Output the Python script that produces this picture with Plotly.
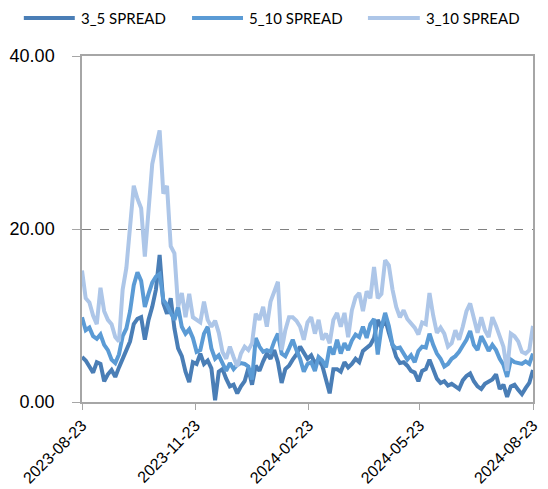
import pandas as pd
import plotly.graph_objects as go

# sampled every 3 days from 2023-08-23 to 2024-08-23
dates = pd.date_range("2023-08-23", "2024-08-23", freq="3D")

spread_3_5 = [
    5.2, 4.8, 4.1, 3.4, 4.6, 4.4, 2.4, 3.2, 3.7, 2.9,
    4.0, 4.9, 6.0, 7.0, 9.0, 9.6, 9.8, 7.2, 9.5, 11.0,
    13.0, 17.0, 11.4, 10.2, 12.0, 8.5, 6.2, 5.3, 3.5, 2.3,
    4.6, 4.4, 5.6, 4.4, 4.8, 3.9, 0.2, 3.5, 3.8, 2.7,
    1.8, 2.0, 1.0, 1.8, 2.4, 3.9, 2.0, 4.2, 3.6, 4.7,
    5.6, 5.0, 6.0, 4.6, 2.2, 3.8, 4.2, 4.9, 5.5, 6.4,
    5.8, 5.0, 5.4, 4.5, 4.9, 4.2, 2.6, 1.0, 3.8, 3.8,
    3.5, 4.6, 4.0, 4.4, 5.0, 4.6, 5.9, 6.2, 6.6, 7.4,
    9.5, 8.6, 9.6, 8.0, 6.6, 5.2, 4.5, 4.6, 4.2, 3.6,
    3.4, 2.4, 3.6, 3.8, 4.9, 3.7, 2.7, 2.2, 2.4, 1.9,
    2.1, 1.8, 1.5, 2.5, 3.0, 3.3, 2.4, 1.8, 1.5, 2.1,
    2.3, 2.6, 3.2, 1.5, 2.0, 0.6, 1.8, 2.0, 1.4, 0.9,
    1.6, 2.2, 3.7,
]

spread_5_10 = [
    9.8, 8.3, 8.6, 7.6, 7.3, 7.8, 6.6, 6.0, 4.9, 4.5,
    5.5, 7.6, 8.5, 10.5, 13.5, 15.0, 14.0, 11.0, 12.5, 13.8,
    14.5, 14.8, 11.8, 11.2, 10.3, 9.5, 11.0, 8.7, 7.9, 8.4,
    7.4, 5.8, 6.0, 7.9, 8.7, 6.2, 5.0, 5.4, 4.5, 3.6,
    4.5, 3.8, 4.3, 4.5, 4.4, 4.1, 2.6, 7.4, 6.4, 5.8,
    6.0, 5.8, 7.0, 7.9, 5.6, 5.3, 6.2, 7.2, 6.0, 5.0,
    3.5, 4.4, 4.6, 3.6, 5.2, 4.8, 4.0, 6.4, 5.5, 7.2,
    5.6, 6.8, 6.0, 7.1, 7.8, 7.5, 8.7, 7.4, 9.0, 9.6,
    5.5, 8.6, 10.3, 8.8, 6.6, 6.2, 6.3, 5.6, 4.9, 5.4,
    4.6, 5.9, 6.4, 6.3, 7.9, 6.6, 5.6, 5.0, 4.1, 4.4,
    5.0, 5.3, 5.8, 6.5, 7.2, 8.2, 6.6, 6.0, 7.6, 6.8,
    5.9, 6.6, 6.0, 5.0, 4.3, 2.9, 4.9, 4.6, 4.5, 4.4,
    4.7, 4.4, 5.6,
]

spread_3_10 = [
    15.2, 12.0, 11.5, 10.0, 9.0, 13.2, 10.5, 9.5, 9.0, 7.5,
    7.0, 13.0, 15.5, 19.9, 25.0, 23.5, 22.4, 16.8, 22.0, 27.5,
    29.5, 31.4, 24.1, 25.0, 18.0, 17.2, 11.0, 12.6, 9.8, 12.5,
    9.8, 9.5, 9.2, 11.6, 9.5, 8.7, 9.4, 8.0, 5.8, 5.0,
    6.4, 5.2, 4.1, 5.6, 6.4, 6.0, 6.8, 10.2, 9.5, 11.0,
    8.7, 11.6, 12.9, 13.9, 6.0, 8.3, 9.8, 9.8, 9.4, 8.7,
    7.2, 9.2, 9.8, 7.9, 9.5, 7.2, 7.9, 6.8, 9.5, 10.3,
    8.7, 10.3, 7.5, 10.6, 12.1, 12.6, 10.5, 12.8, 12.0, 15.6,
    12.0, 12.5, 16.4, 15.8, 13.0, 11.0, 9.8, 10.6, 9.6, 9.1,
    8.6, 7.8, 9.2, 9.0, 12.6, 10.0, 8.0, 8.6, 7.9, 6.4,
    6.8, 8.3, 7.2, 8.7, 10.5, 11.4, 9.6, 8.0, 9.8, 8.3,
    7.5, 9.8, 8.8, 7.6, 6.4, 3.6, 7.9, 7.6, 7.0, 5.8,
    5.6, 6.0, 8.8,
]

tick_dates = ["2023-08-23", "2023-11-23", "2024-02-23", "2024-05-23", "2024-08-23"]

series = [
    ("3_5 SPREAD", spread_3_5, "#4a7eb6"),
    ("5_10 SPREAD", spread_5_10, "#5b9bd5"),
    ("3_10 SPREAD", spread_3_10, "#adc6e8"),
]

# legend drawn by hand (paper coords) so the layout matches the original
legend_pos = [(-0.129, -0.016), (0.244, 0.357), (0.634, 0.749)]
legend_y = 1.11

fig = go.Figure()
shapes = []
annotations = []
for (name, vals, color), (lx0, lx1) in zip(series, legend_pos):
    fig.add_trace(go.Scatter(
        x=dates, y=vals, name=name, mode="lines",
        line=dict(color=color, width=4), showlegend=False,
    ))
    shapes.append(dict(type="line", xref="paper", yref="paper",
                       x0=lx0, x1=lx1, y0=legend_y, y1=legend_y,
                       line=dict(color=color, width=4)))
    annotations.append(dict(text=name, xref="paper", yref="paper",
                            x=lx1 + 0.009, y=legend_y, xanchor="left",
                            yanchor="middle", showarrow=False,
                            font=dict(family="Lato", size=15, color="black")))

# page body has an 8px margin, so the figure is 8px smaller each way
fig.update_layout(
    width=540, height=481,
    paper_bgcolor="white", plot_bgcolor="white",
    margin=dict(l=74, r=15, t=48, b=87),
    font=dict(family="Liberation Sans", color="black"),
    showlegend=False,
    xaxis=dict(
        range=["2023-08-23", "2024-08-23"],
        tickvals=tick_dates, tickformat="%Y-%m-%d", tickangle=-45,
        tickfont=dict(size=16), automargin=False,
        showgrid=False, showline=True, linecolor="#a6a6a6", linewidth=1.5,
        mirror=True, ticks="outside", ticklen=6, tickcolor="#a6a6a6",
    ),
    yaxis=dict(
        range=[0, 40], tickvals=[0, 20, 40], tickformat=".2f",
        tickfont=dict(size=18), automargin=False,
        showgrid=True, gridcolor="#808080", griddash="dash", gridwidth=1,
        showline=True, linecolor="#a6a6a6", linewidth=1.5, mirror=True,
        ticks="outside", ticklen=8, tickcolor="#a6a6a6",
        ticklabelstandoff=14, zeroline=False,
    ),
    shapes=shapes,
    annotations=annotations,
)

fig.write_html("out.html")
